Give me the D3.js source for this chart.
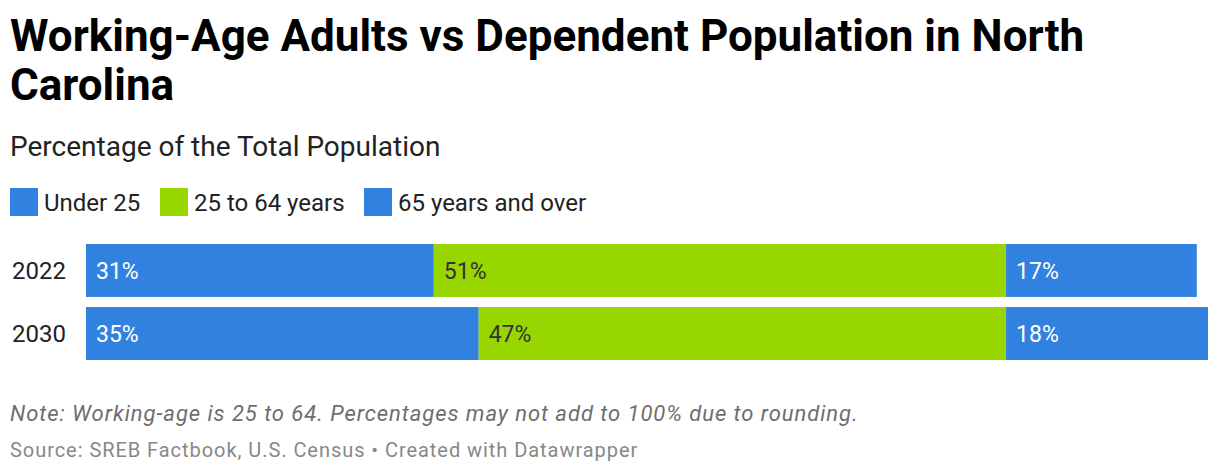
<!DOCTYPE html>
<html>
<head>
<meta charset="utf-8">
<script src="https://cdn.jsdelivr.net/npm/d3@7"></script>
<style>
  body { margin: 0; background: #fff; font-family: Roboto, sans-serif; }
  svg text { font-family: Roboto, sans-serif; }
</style>
</head>
<body>
<svg id="chart" width="1220" height="474"></svg>
<script>
// data
var years = ['2022', '2030'];
var seriesNames = ['Under 25', '25 to 64 years', '65 years and over'];
var under25 = [31, 35];
var working = [51, 47];
var over65 = [17, 18];
var seriesColors = ['#3182e0', '#98d600', '#3182e0'];
var labelColors = ['#ffffff', '#333333', '#ffffff'];

var svg = d3.select('#chart');

// header
svg.append('text')
  .attr('x', 10).attr('y', 51)
  .attr('font-size', 44).attr('font-weight', 700).attr('fill', '#000')
  .text('Working-Age Adults vs Dependent Population in North');
svg.append('text')
  .attr('x', 10).attr('y', 100)
  .attr('font-size', 44).attr('font-weight', 700).attr('fill', '#000')
  .text('Carolina');
svg.append('text')
  .attr('x', 10).attr('y', 156)
  .attr('font-size', 28).attr('fill', '#222')
  .text('Percentage of the Total Population');

// legend
var legendX = [10, 160, 364];
var legend = svg.selectAll('g.legend')
  .data(seriesNames)
  .enter()
  .append('g')
  .attr('class', 'legend')
  .attr('transform', function(d, i) { return 'translate(' + legendX[i] + ',188)'; });

legend.append('rect')
  .attr('width', 28).attr('height', 28)
  .attr('fill', function(d, i) { return seriesColors[i]; });

legend.append('text')
  .attr('x', 34).attr('y', 23)
  .attr('font-size', 24).attr('fill', '#222')
  .text(function(d) { return d; });

// bars
var rows = years.map(function(y, i) {
  return { year: y, values: [under25[i], working[i], over65[i]] };
});

var x = d3.scaleLinear().domain([0, 100]).range([86, 1208]);
var y = d3.scaleBand().domain(years).range([244, 360]).paddingInner(0.16);

var row = svg.selectAll('g.row')
  .data(rows)
  .enter()
  .append('g')
  .attr('class', 'row')
  .attr('transform', function(d) { return 'translate(0,' + y(d.year) + ')'; });

row.append('text')
  .attr('x', 12).attr('y', y.bandwidth() / 2)
  .attr('dy', '0.35em')
  .attr('font-size', 24).attr('fill', '#222')
  .text(function(d) { return d.year; });

var segs = row.selectAll('g.seg')
  .data(function(d) {
    var acc = 0;
    return d.values.map(function(v, i) {
      var s = { start: acc, value: v, idx: i };
      acc += v;
      return s;
    });
  })
  .enter()
  .append('g')
  .attr('class', 'seg');

segs.append('rect')
  .attr('x', function(d) { return x(d.start); })
  .attr('width', function(d) { return x(d.start + d.value) - x(d.start); })
  .attr('height', y.bandwidth())
  .attr('fill', function(d) { return seriesColors[d.idx]; });

segs.append('text')
  .attr('x', function(d) { return x(d.start) + 10; })
  .attr('y', y.bandwidth() / 2)
  .attr('dy', '0.35em')
  .attr('font-size', 23)
  .attr('fill', function(d) { return labelColors[d.idx]; })
  .text(function(d) { return d.value + '%'; });

// footer
svg.append('text')
  .attr('x', 10).attr('y', 421)
  .attr('font-size', 22).attr('font-style', 'italic').attr('fill', '#6e6e6e')
  .attr('letter-spacing', 0.95)
  .text('Note: Working-age is 25 to 64. Percentages may not add to 100% due to rounding.');
svg.append('text')
  .attr('x', 10).attr('y', 457)
  .attr('font-size', 20).attr('fill', '#888')
  .attr('letter-spacing', 0.95)
  .text('Source: SREB Factbook, U.S. Census \u2022 Created with Datawrapper');
</script>
</body>
</html>
